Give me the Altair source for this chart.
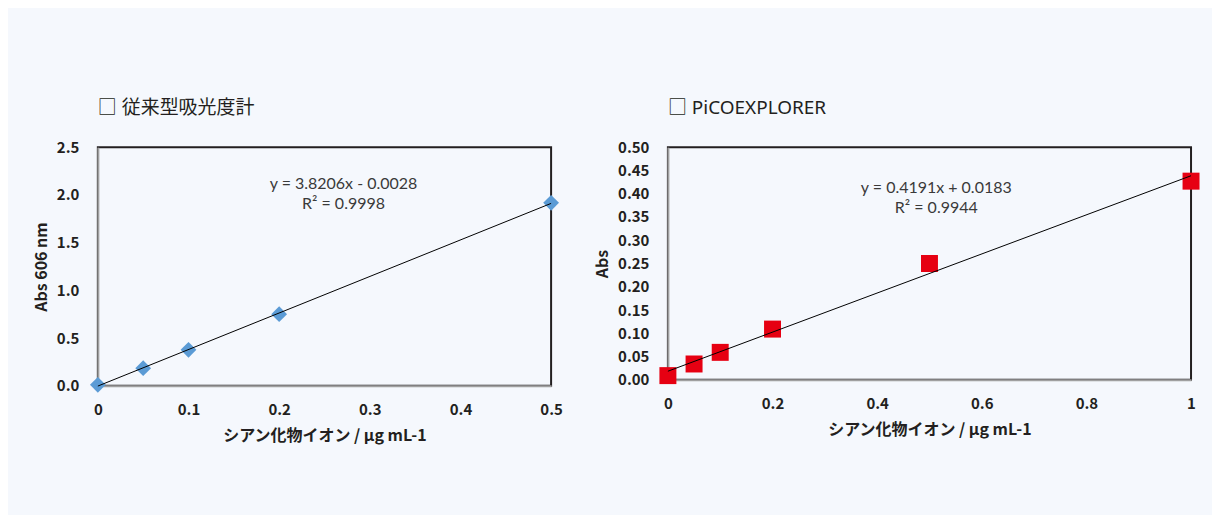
import altair as alt
import pandas as pd

# ---- data ----
left_x = [0, 0.05, 0.1, 0.2, 0.5]
left_y = [0.01, 0.185, 0.377, 0.75, 1.917]
right_x = [0, 0.05, 0.1, 0.2, 0.5, 1]
right_y = [0.009, 0.034, 0.059, 0.109, 0.250, 0.427]

left_title = "□ 従来型吸光度計"
right_title = "□ PiCOEXPLORER"
x_title = "シアン化物イオン / μg mL-1"
left_y_title = "Abs 606 nm"
right_y_title = "Abs"

left_eq = ["y = 3.8206x - 0.0028\nR² = 0.9998"]
left_eq_x = [0.271]
left_eq_y = [2.11]
right_eq = ["y = 0.4191x + 0.0183\nR² = 0.9944"]
right_eq_x = [0.513]
right_eq_y = [0.413]

left_xticks = [0, 0.1, 0.2, 0.3, 0.4, 0.5]
left_yticks = [0, 0.5, 1.0, 1.5, 2.0, 2.5]
right_xticks = [0, 0.2, 0.4, 0.6, 0.8, 1]
right_yticks = [0, 0.05, 0.1, 0.15, 0.2, 0.25, 0.3, 0.35, 0.4, 0.45, 0.5]

FONT = "Noto Sans CJK JP"
TITLE_FONT = "Noto Sans, Noto Sans CJK JP"
EQ_FONT = "Lato"
INK = "#231f20"


def panel(xs, ys, xdom, xticks, ydom, yticks, yfmt, shape, color, size,
          title, ytitle, eq, eqx, eqy, w, h):
    df = pd.DataFrame({"x": xs, "y": ys})
    eqdf = pd.DataFrame({"x": eqx, "y": eqy, "t": eq})
    X = alt.X("x:Q", scale=alt.Scale(domain=xdom, nice=False, zero=False),
              axis=alt.Axis(values=xticks, format="~g", title=x_title,
                            labelOverlap=False))
    Y = alt.Y("y:Q", scale=alt.Scale(domain=ydom, nice=False, zero=False),
              axis=alt.Axis(values=yticks, format=yfmt, title=ytitle,
                            labelOverlap=False))
    pts = alt.Chart(df).mark_point(shape=shape, filled=True, size=size,
                                   color=color, opacity=1).encode(x=X, y=Y)
    line = (alt.Chart(df).transform_regression("x", "y")
            .mark_line(color="#000000", strokeWidth=1)
            .encode(x=X, y=Y))
    txt = (alt.Chart(eqdf).mark_text(font=EQ_FONT, fontSize=16, color="#3a3a3a",
                                     lineBreak="\n", lineHeight=20, baseline="middle")
           .encode(x=X, y=Y, text="t:N"))
    return alt.layer(pts, line, txt).properties(
        width=w, height=h,
        title=alt.TitleParams(text=title, anchor="start", frame="group",
                              font=TITLE_FONT, fontSize=19, fontWeight="normal",
                              color=INK, offset=22),
    )


left = panel(left_x, left_y, [0, 0.5], left_xticks, [0, 2.5], left_yticks, ".1f",
             "diamond", "#5b9bd5", 250, left_title, left_y_title,
             left_eq, left_eq_x, left_eq_y, 454, 239)
right = panel(right_x, right_y, [0, 1], right_xticks, [0, 0.5], right_yticks, ".2f",
              "square", "#e60012", 289, right_title, right_y_title,
              right_eq, right_eq_x, right_eq_y, 524, 233)

chart = (alt.hconcat(left, right, spacing=29)
         .properties(background="#f5f8fd",
                     padding={"left": 24, "top": 90, "right": 11, "bottom": 70})
         .configure_view(stroke=INK, strokeWidth=2)
         .configure_axis(domainColor="#a0a0a0", domainWidth=2, ticks=False, grid=False,
                         labelFont=FONT, labelFontSize=15, labelFontWeight="bold",
                         labelColor=INK, labelPadding=17, labelFlush=False,
                         titleFont=FONT, titleFontSize=16, titleFontWeight="bold",
                         titleColor=INK, titlePadding=10)
         .configure_axisY(labelPadding=19, titlePadding=7))

chart.save("out.html", embed_options={"renderer": "svg", "actions": False})
